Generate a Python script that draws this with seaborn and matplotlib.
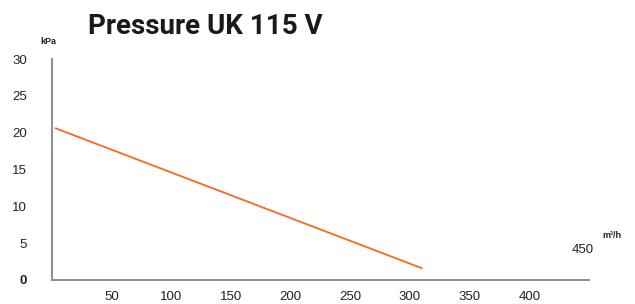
import matplotlib
matplotlib.use("Agg")
import matplotlib.pyplot as plt
import seaborn as sns
import pandas as pd

# data
flow = [3, 310]          # m3/h
pressure = [20.6, 1.6]   # kPa
x_ticks = [50, 100, 150, 200, 250, 300, 350, 400, 450]
y_ticks = [0, 5, 10, 15, 20, 25, 30]

sns.set_style("white")
plt.rcParams['font.family'] = ['Liberation Sans', 'DejaVu Sans']

axis_grey = '#8c929a'
line_col = '#f26a21'

fig = plt.figure(figsize=(6.35, 3.04), dpi=100)
ax = fig.add_axes([52 / 635, 24 / 304, 537 / 635, 221 / 304])

df = pd.DataFrame({'flow': flow, 'pressure': pressure})
sns.lineplot(data=df, x='flow', y='pressure', color=line_col, linewidth=1.3, ax=ax)

ax.set_xlim(0, 450)
ax.set_ylim(0, 30)
ax.set_xlabel('')
ax.set_ylabel('')
sns.despine(ax=ax)
for s in ['left', 'bottom']:
    ax.spines[s].set_color(axis_grey)
    ax.spines[s].set_linewidth(1.5)

ax.set_xticks(x_ticks)
ax.set_xticklabels([str(v) for v in x_ticks[:-1]] + [''])
ax.set_yticks(y_ticks)
ax.set_yticklabels(['0'] + [str(v) for v in y_ticks[1:]])
ax.get_yticklabels()[0].set_fontweight('bold')
ax.tick_params(axis='both', direction='inout', length=6, width=1, color=axis_grey,
               labelsize=9.5, labelcolor='#222222')
ax.tick_params(axis='x', pad=5)
ax.tick_params(axis='y', pad=15)

fig.text(205 / 635, 1 - 26 / 304, 'Pressure UK 115 V', ha='center', va='center',
         fontsize=20, fontweight='bold', color='#1a1a1a',
         family=['Roboto', 'Liberation Sans', 'DejaVu Sans'])
fig.text(48 / 635, 1 - 42 / 304, 'kPa', ha='center', va='center',
         fontsize=6.5, fontweight='bold', color='#222222')
fig.text(612 / 635, 1 - 236 / 304, 'm³/h', ha='center', va='center',
         fontsize=6.5, fontweight='bold', color='#222222')
fig.text(583 / 635, 1 - 250 / 304, str(x_ticks[-1]), ha='center', va='center',
         fontsize=9.5, color='#222222')

fig.savefig('out.png', dpi=100)
